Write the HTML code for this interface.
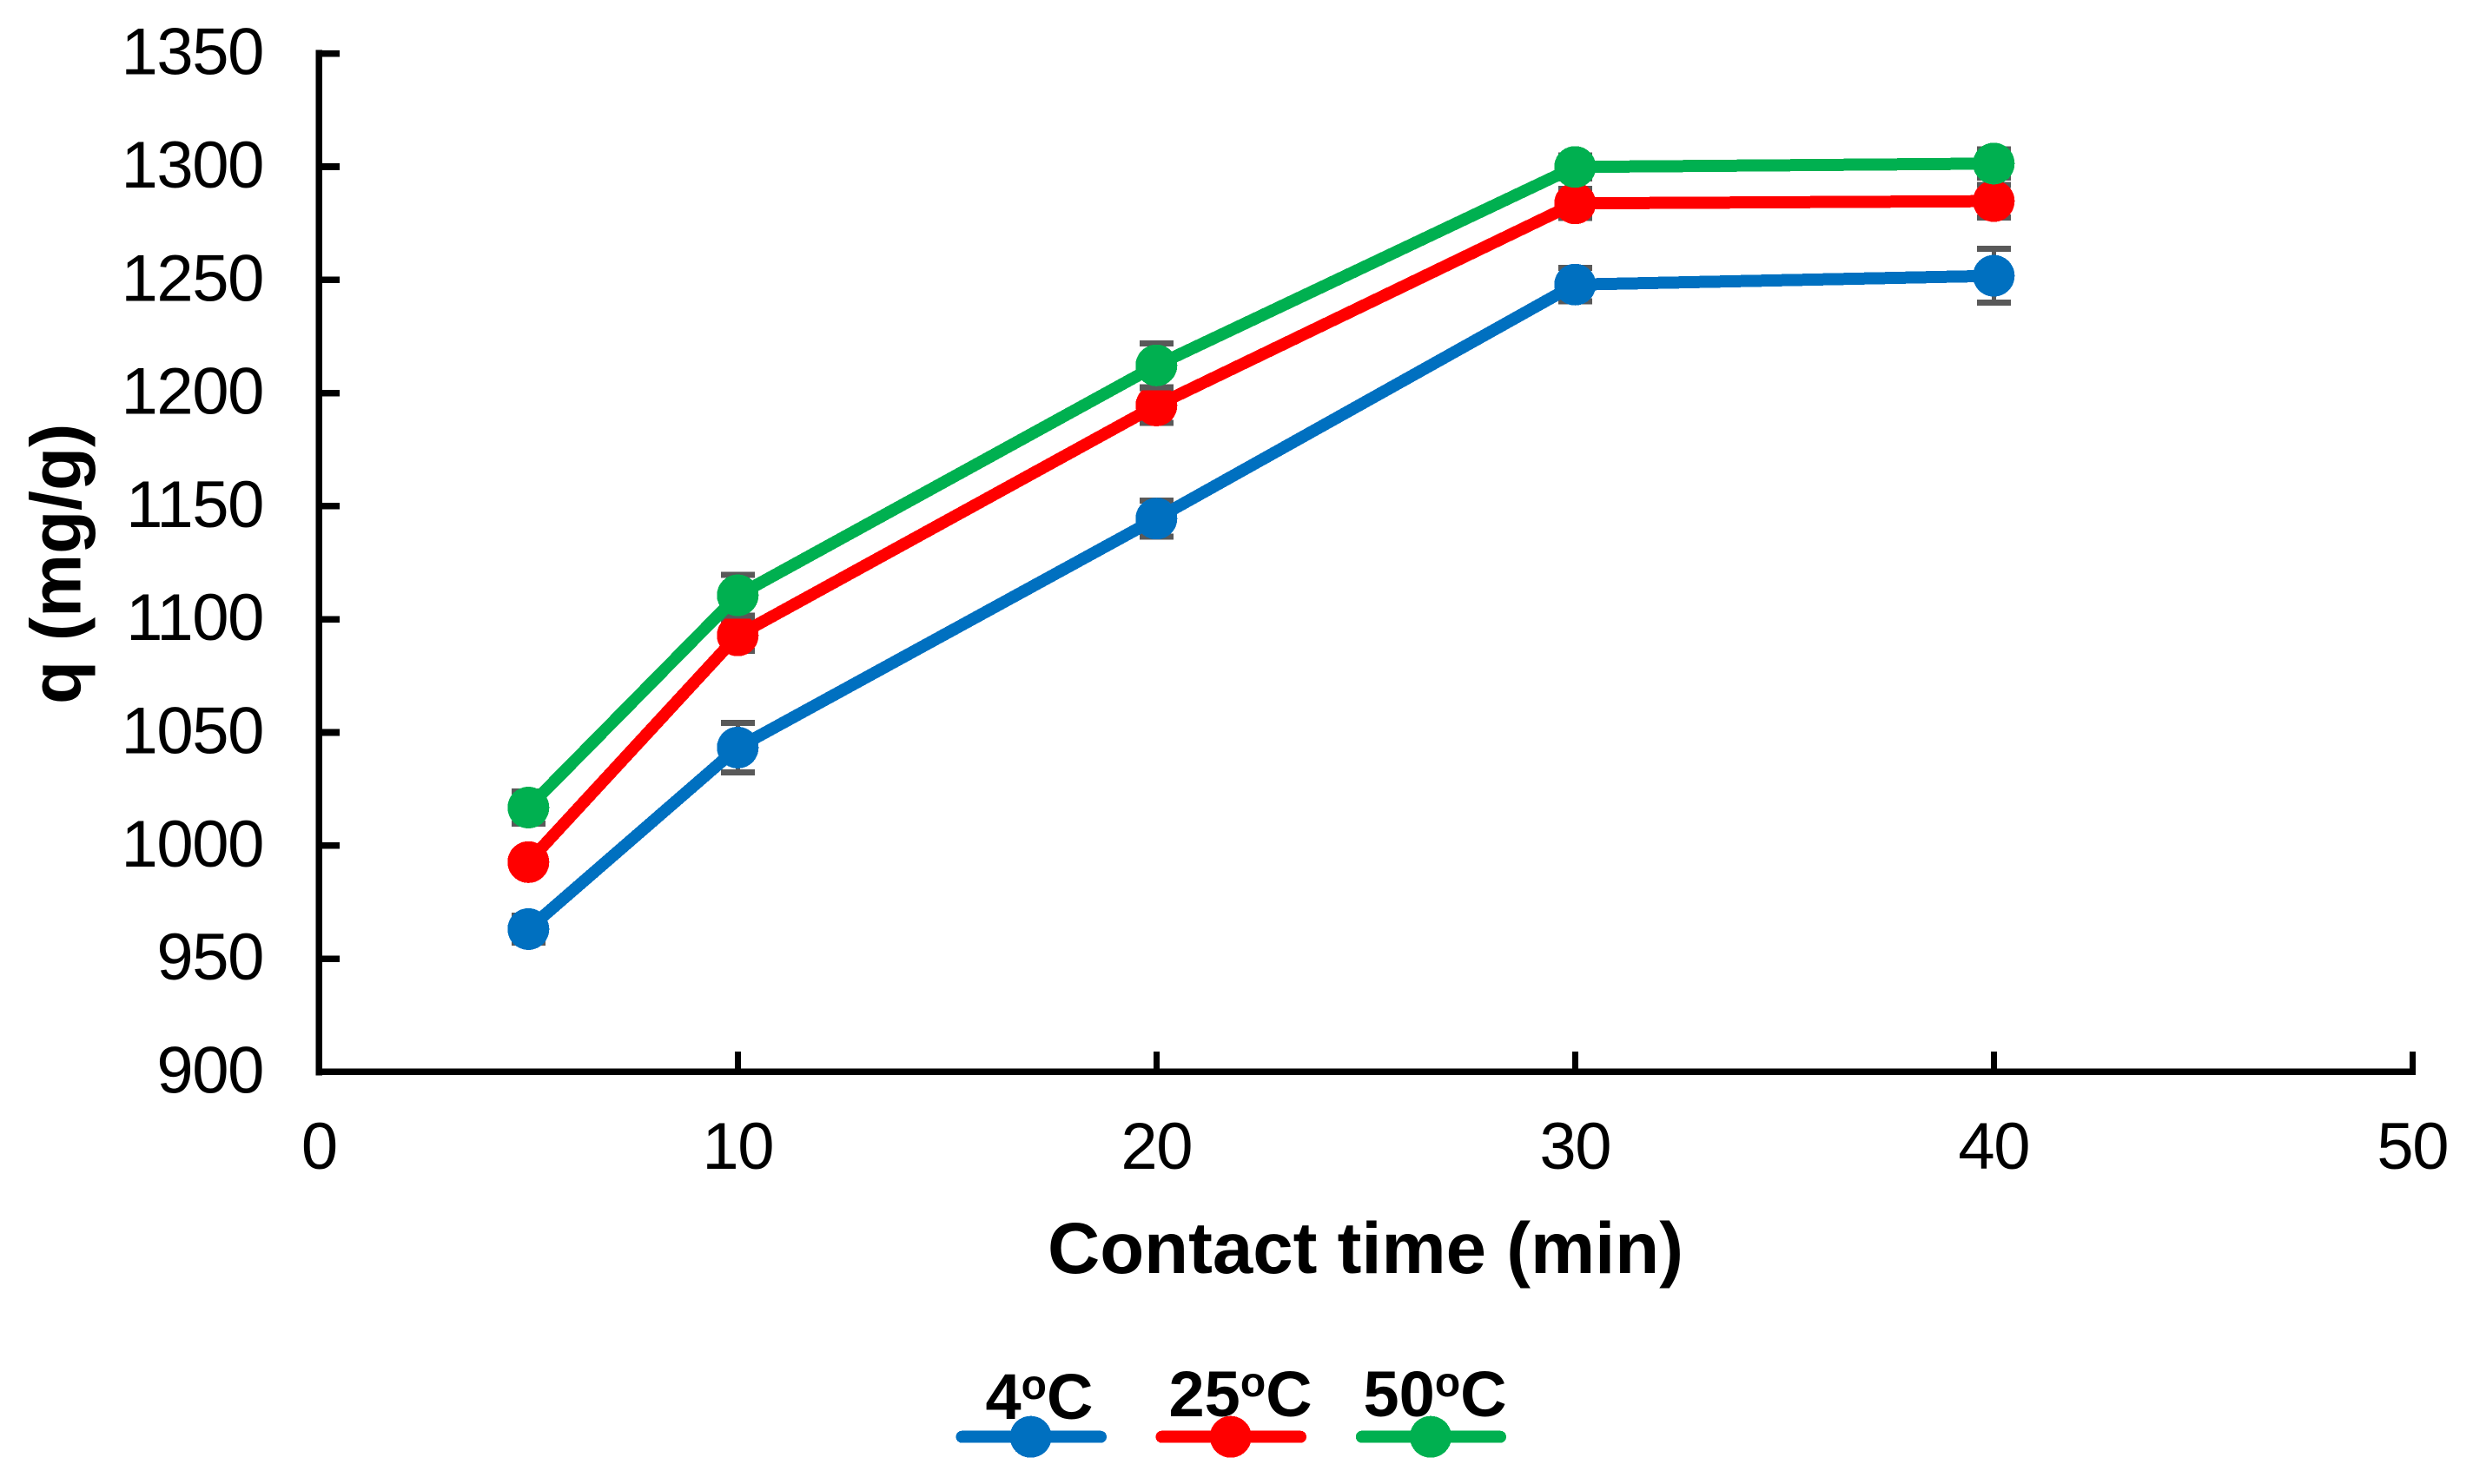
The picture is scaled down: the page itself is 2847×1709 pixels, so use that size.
<!DOCTYPE html>
<html lang="en">
<head>
<meta charset="utf-8">
<title>q vs contact time</title>
<style>
html,body{margin:0;padding:0;background:#fff;}
svg{display:block;font-family:"Liberation Sans",Arial,sans-serif;}
line,circle,polyline{shape-rendering:crispEdges;}
</style>
</head>
<body>
<svg id="chart" xmlns="http://www.w3.org/2000/svg" width="2847" height="1709" viewBox="0 0 2847 1709">
  <rect x="0" y="0" width="2847" height="1709" fill="#ffffff"/>
  <g id="axes"></g>
  <g id="plot"></g>
  <text x="1206" y="1466" font-size="83.4" font-weight="700" fill="#000">Contact time (min)</text>
  <text transform="translate(92.7 811) rotate(-90)" font-size="82" font-weight="700" fill="#000">q (mg/g)</text>
  <g>
    <g>
      <text x="1134.5" y="1634" font-size="74" font-weight="700" fill="#000">4<tspan font-size="48" dy="-23">o</tspan><tspan dy="23">C</tspan></text>
      <line x1="1107.5" y1="1654.7" x2="1267" y2="1654.7" stroke="#0070C0" stroke-width="14" stroke-linecap="round"/>
      <circle cx="1186.6" cy="1654.7" r="24" fill="#0070C0"/>
    </g>
    <g>
      <text x="1345.5" y="1631" font-size="74" font-weight="700" fill="#000">25<tspan font-size="48" dy="-23">o</tspan><tspan dy="23">C</tspan></text>
      <line x1="1337.5" y1="1654.7" x2="1497" y2="1654.7" stroke="#FF0000" stroke-width="14" stroke-linecap="round"/>
      <circle cx="1416.8" cy="1654.7" r="24" fill="#FF0000"/>
    </g>
    <g>
      <text x="1569.5" y="1631" font-size="74" font-weight="700" fill="#000">50<tspan font-size="48" dy="-23">o</tspan><tspan dy="23">C</tspan></text>
      <line x1="1567.8" y1="1654.7" x2="1727" y2="1654.7" stroke="#00B050" stroke-width="14" stroke-linecap="round"/>
      <circle cx="1647" cy="1654.7" r="24" fill="#00B050"/>
    </g>
  </g>
</svg>
<script>
const times = [5, 10, 20, 30, 40];
const q4C = [963.1, 1043.3, 1144.5, 1247.9, 1251.8];
const q25C = [992.7, 1092.9, 1194.5, 1283.8, 1284.8];
const q50C = [1016.8, 1110.6, 1212.2, 1299.9, 1301.4];
const err4C = [6, 10.9, 8, 7.4, 11.9];
const err25C = [4, 6.9, 7.7, 6.5, 7.2];
const err50C = [7.1, 9, 9.7, 5, 6.2];
const xTickValues = [0, 10, 20, 30, 40, 50];
const yTickValues = [900, 950, 1000, 1050, 1100, 1150, 1200, 1250, 1300, 1350];

const NS = 'http://www.w3.org/2000/svg';
const axes = document.getElementById('axes');
const plot = document.getElementById('plot');

function xScale(v) { return 367.3 + (v - 0) * 48.2; }
function yScale(v) { return 1234.4 - (v - 900) * 2.606; }

function make(tag, parent, attrs) {
  const el = document.createElementNS(NS, tag);
  for (const k in attrs) el.setAttribute(k, attrs[k]);
  parent.appendChild(el);
  return el;
}

const yAxisLine = make('line', axes, {x1: xScale(0), y1: yScale(1350) - 4, x2: xScale(0), y2: yScale(900) + 4, stroke: '#000', 'stroke-width': 7.6});


const xAxisLine = make('line', axes, {x1: xScale(0) - 3.8, y1: yScale(900), x2: xScale(50) + 3.6, y2: yScale(900), stroke: '#000', 'stroke-width': 7.4});



yTickValues.forEach(function (v) {
  const y = yScale(v);
  if (v !== 900) {
    const tick = make('line', axes, {x1: xScale(0), y1: y, x2: 391, y2: y, stroke: '#000', 'stroke-width': 7.6});
    
    
  }
  const label = make('text', axes, {x: 303, y: y + 24, 'font-size': 76, 'letter-spacing': -1.4, 'text-anchor': 'end', fill: '#000'});
  
  
  label.textContent = String(v);
});

xTickValues.forEach(function (v) {
  const x = xScale(v);
  if (v !== 0) {
    const tick = make('line', axes, {x1: x, y1: 1211, x2: x, y2: yScale(900), stroke: '#000', 'stroke-width': 7});
    
    
  }
  const label = make('text', axes, {x: x, y: 1346, 'font-size': 76, 'letter-spacing': -1.4, 'text-anchor': 'middle', fill: '#000'});
  
  
  label.textContent = String(v);
});

function drawSeries(values, errors, color) {
  const group = make('g', plot, {});
  
  

  values.forEach(function (v, i) {
    const x = xScale(times[i]);
    const top = yScale(v + errors[i]);
    const bottom = yScale(v - errors[i]);
    const stem = make('line', group, {x1: x, y1: top, x2: x, y2: bottom, stroke: '#595959', 'stroke-width': 5});
    
    
    const capTop = make('line', group, {x1: x - 19.5, y1: top, x2: x + 19.5, y2: top, stroke: '#595959', 'stroke-width': 7});
    
    
    const capBottom = make('line', group, {x1: x - 19.5, y1: bottom, x2: x + 19.5, y2: bottom, stroke: '#595959', 'stroke-width': 7});
    
    
  });

  const pts = values.map(function (v, i) { return xScale(times[i]) + ',' + yScale(v); }).join(' ');
  const line = make('polyline', group, {points: pts, fill: 'none', stroke: color, 'stroke-width': 14, 'stroke-linejoin': 'round'});
  
  

  values.forEach(function (v, i) {
    const dot = make('circle', group, {cx: xScale(times[i]), cy: yScale(v), r: 24, fill: color});
    
    
  });
}

drawSeries(q4C, err4C, '#0070C0');
drawSeries(q25C, err25C, '#FF0000');
drawSeries(q50C, err50C, '#00B050');
</script>
</body>
</html>
